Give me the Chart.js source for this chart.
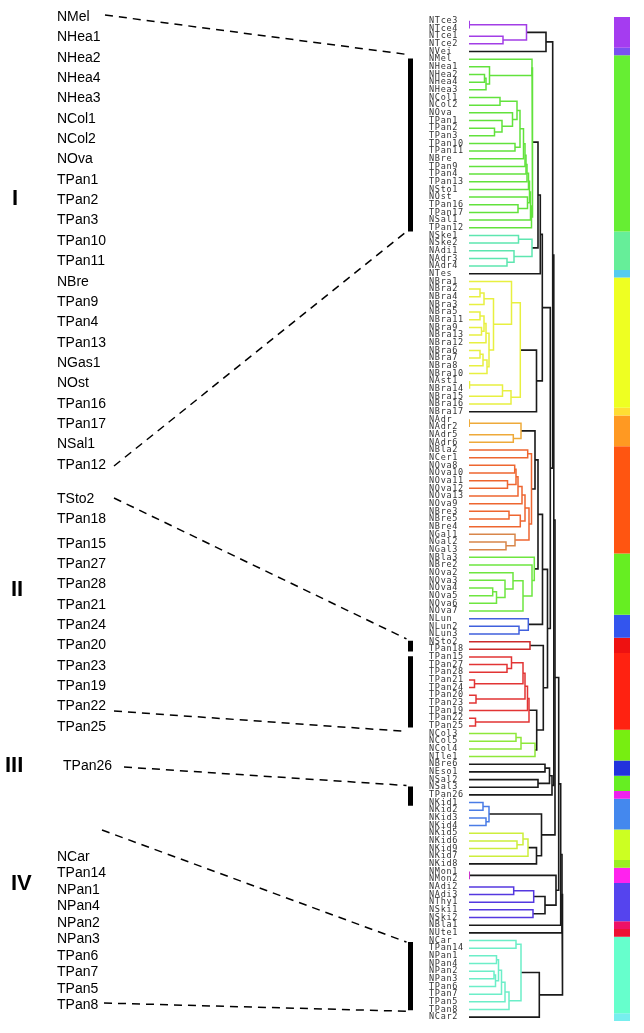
<!DOCTYPE html>
<html><head><meta charset="utf-8">
<script src="https://cdn.jsdelivr.net/npm/chart.js@4/dist/chart.umd.min.js"></script>
<style>html,body{margin:0;padding:0;background:#fff;}#wrap{position:relative;width:644px;height:1033px;}</style>
</head><body><div id="wrap"><canvas id="c"></canvas></div>
<script>
// ---------- DATA ----------
const leaves = ["NTce3","NTce4","NTce1","NTce2","NVei","NMel","NHea1","NHea2","NHea4","NHea3","NCol1","NCol2","NOva","TPan1","TPan2","TPan3","TPan10","TPan11","NBre","TPan9","TPan4","TPan13","NSto1","NOst","TPan16","TPan17","NSal1","TPan12","NSke1","NSke2","NAdi1","NAdr3","NAdr4","NTes","NBra1","NBra2","NBra4","NBra3","NBra5","NBra11","NBra9","NBra13","NBra12","NBra6","NBra7","NBra8","NBra10","NAst1","NBra14","NBra15","NBra16","NBra17","NAdr","NAdr2","NAdr5","NAdr6","NBla2","NCer1","NOva8","NOva10","NOva11","NOva12","NOva13","NOva9","NBre3","NBre5","NBre4","NGal1","NGal2","NGal3","NBla3","NBre2","NOva2","NOva3","NOva4","NOva5","NOva6","NOva7","NLun","NLun2","NLun3","NSto2","TPan18","TPan15","TPan27","TPan28","TPan21","TPan24","TPan20","TPan23","TPan19","TPan22","TPan25","NCol3","NCol5","NCol4","NIle1","NBre6","NEso1","NSal2","NSal3","TPan26","NKid1","NKid2","NKid3","NKid4","NKid5","NKid6","NKid9","NKid7","NKid8","NMon1","NMon2","NAdi2","NAdi3","NThy1","NSki1","NSki2","NBla1","NUte1","NCar","TPan14","NPan1","NPan4","NPan2","NPan3","TPan6","TPan7","TPan5","TPan8","NCar2"];

// [id, left child, right child, merge height, colour key]
const merges = [
 ['A1','NTce3','NTce4',0.4,'pu'],['A2','NTce1','NTce2',34,'pu'],['A3','A1','A2',57.5,'pu'],['A4','A3','NVei',77,'k'],
 ['t1','NHea2','NHea4',15.5,'gr'],['t2','t1','NHea3',17,'gr'],['t3','NHea1','t2',20.5,'gr'],['t4','NMel','t3',63,'gr'],
 ['t5','NCol1','NCol2',31,'gr'],['t6','TPan2','TPan3',25.5,'gr'],['t7','TPan1','t6',33,'gr'],['t8','NOva','t7',43.5,'gr'],
 ['t9','t5','t8',48,'gr'],['t10','TPan10','TPan11',46,'gr'],['t11','t9','t10',51,'gr'],
 ['s1','t11','NBre',54.5,'gr'],['s2','s1','TPan9',56,'gr'],['s3','s2','TPan4',57,'gr'],['s4','s3','TPan13',58,'gr'],
 ['s5','s4','NSto1',59.5,'gr'],['t13','TPan16','TPan17',49,'gr'],['t14','NOst','t13',58.5,'gr'],['s6','s5','t14',60.5,'gr'],
 ['s7','s6','NSal1',61.5,'gr'],['s8','s7','TPan12',62.5,'gr'],['s9','t4','s8',63.5,'gr'],
 ['m1','NSke1','NSke2',49.5,'mi'],['m2','NAdr3','NAdr4',38,'mi'],['m3','NAdi1','m2',45,'mi'],['m4','m1','m3',63,'mi'],
 ['gm','s9','m4',69,'k'],['gmt','gm','NTes',71.3,'k'],
 ['b1','NBra2','NBra4',11,'ye'],['b2','b1','NBra3',15,'ye'],['b3','NBra5','NBra11',11,'ye'],['b4','NBra9','NBra13',12.5,'ye'],
 ['b5','b3','b4',15,'ye'],['b6','b5','NBra12',17,'ye'],['b7','NBra6','NBra7',11,'ye'],['b8','b7','NBra8',14,'ye'],
 ['b9','b8','NBra10',18,'ye'],['b10','b6','b9',20,'ye'],['b11','b2','b10',24.5,'ye'],['b12','NBra1','b11',42.5,'ye'],
 ['b13','NAst1','NBra14',0.8,'ye'],['b14','b13','NBra15',33.5,'ye'],['b15','b14','NBra16',42,'ye'],['b16','b12','b15',51.3,'ye'],
 ['b17','b16','NBra17',67.5,'k'],['G','gmt','b17',73.3,'k'],
 ['a1','NAdr','NAdr2',0.4,'or'],['a2','NAdr5','NAdr6',44.3,'or'],['a3','a1','a2',52,'or'],
 ['o1','NBla2','NCer1',58.7,'ro'],['o2','NOva8','NOva10',45.7,'ro'],['o3','NOva11','NOva12',38.5,'ro'],['o4','o2','o3',47,'ro'],
 ['o5','o4','NOva13',49,'ro'],['o6','o5','NOva9',53,'ro'],['o7','NBre3','NBre5',40,'ro'],['o8','o7','NBre4',51.3,'ro'],
 ['o9','o6','o8',56,'ro'],['o10','NGal2','NGal3',37,'rb'],['o11','NGal1','o10',46,'rb'],['o12','o9','o11',60,'ro'],
 ['o13','o1','o12',62.5,'ro'],['ao','a3','o13',66,'k'],
 ['g1','NOva4','NOva5',23.7,'g2'],['g2','g1','NOva6',27.5,'g2'],['g3','NOva3','g2',36,'g2'],['g4','NOva2','g3',44,'g2'],
 ['g5','g4','NOva7',54,'g2'],['g6','NBre2','g5',63,'g2'],['g7','NBla3','g6',65.3,'g2'],['aog','ao','g7',69,'k'],
 ['l1','NLun2','NLun3',50,'bl'],['l2','NLun','l1',59.3,'bl'],['aogl','aog','l2',73.5,'k'],
 ['r1','NSto2','TPan18',61,'rd'],['r2','TPan27','TPan28',38,'re'],['r3','TPan15','r2',42.5,'re'],['r4','TPan21','TPan24',5.5,'re'],
 ['r5','r3','r4',54,'re'],['r6','TPan20','TPan23',7,'re'],['r7','r5','r6',56,'re'],['r8','r7','TPan19',58.5,'re'],
 ['r9','TPan22','TPan25',6.5,'re'],['r10','r8','r9',60,'re'],
 ['c1','NCol3','NCol5',47,'g3'],['c2','c1','NCol4',52,'g3'],['c3','c2','NIle1',66,'g3'],
 ['rc','r10','c3',67.7,'k'],['rc2','r1','rc',74.3,'k'],['OR','aogl','rc2',78.5,'k'],['GO','G','OR',81.3,'k'],['PGO','A4','GO',83.7,'k'],
 ['e1','NBre6','NEso1',76,'k'],['e2','NSal2','NSal3',69,'k'],['e3','e1','e2',80.5,'k'],['e4','e3','TPan26',83,'k'],['U1','PGO','e4',84.8,'k'],
 ['k1','NKid1','NKid2',14,'kb'],['k2','NKid3','NKid4',17,'kb'],['k3','k1','k2',20,'kb'],['k4','NKid6','NKid9',48,'ky'],
 ['k5','NKid5','k4',54,'ky'],['k6','k5','NKid7',59,'ky'],['k7','k6','NKid8',67.5,'k'],['k8','k3','k7',72.5,'k'],['U2','U1','k8',86,'k'],
 ['n1','NMon1','NMon2',0.4,'ma'],['n2','NAdi2','NAdi3',44.7,'ab'],['n3','n2','NThy1',64.7,'ab'],['n4','NSki1','NSki2',64,'ab'],
 ['n5','n3','n4',76,'k'],['n6','n1','n5',87,'k'],['U3','U2','n6',89.7,'k'],['U4','U3','NBla1',91.7,'k'],['U5','U4','NUte1',93,'k'],
 ['p1','NCar','TPan14',47,'aq'],['p2','NPan1','NPan4',27.5,'aq'],['p3','NPan2','NPan3',25,'aq'],['p4','p3','TPan6',26.5,'aq'],
 ['p5','p2','p4',29.5,'aq'],['p6','p5','TPan7',32.5,'aq'],['p7','p6','TPan5',36,'aq'],['p8','p7','TPan8',40,'aq'],
 ['p9','p1','p8',52,'aq'],['p10','p9','NCar2',70.3,'k'],['ROOT','U5','p10',93.5,'k']
];

const lineColors = {k:'#1a1a1a',pu:'#a23ee6',gr:'#62e23c',mi:'#5ee6b0',ye:'#e8f040',or:'#eeaa3a',ro:'#ee6630',rb:'#d8864a',
  g2:'#6ee640',bl:'#4060dd',rd:'#cc2a2a',re:'#e23434',g3:'#8ee83a',kb:'#4a7ce6',ky:'#cdee3c',ma:'#cc33cc',ab:'#5538e0',aq:'#6ceec8'};

// colour bar: [first leaf, last leaf, colour]
const barSpans = [[0,3,'#a53cf0'],[4,4,'#7a50f0'],[5,27,'#66ee33'],[28,32,'#66ee99'],[33,33,'#55ccee'],[34,50,'#eeff22'],
 [51,51,'#ffdd33'],[52,55,'#ff9922'],[56,69,'#ff5511'],[70,77,'#66ee22'],[78,80,'#3355ee'],[81,82,'#ee1111'],[83,92,'#ff2211'],
 [93,96,'#77ee11'],[97,98,'#2233dd'],[99,100,'#66ee22'],[101,101,'#ee22ee'],[102,105,'#4488ee'],[106,109,'#ccff22'],
 [110,110,'#99ee22'],[111,112,'#ff22ee'],[113,117,'#5544ee'],[118,118,'#ee1166'],[119,119,'#ee1133'],[120,129,'#66ffcc'],[130,130,'#77eeee']];

// annotation groups
const groupNames = ["I","II","III","IV"];
const groupI = ["NMel","NHea1","NHea2","NHea4","NHea3","NCol1","NCol2","NOva","TPan1","TPan2","TPan3","TPan10","TPan11","NBre","TPan9","TPan4","TPan13","NGas1","NOst","TPan16","TPan17","NSal1","TPan12"];
const groupII = ["TSto2","TPan18","TPan15","TPan27","TPan28","TPan21","TPan24","TPan20","TPan23","TPan19","TPan22","TPan25"];
const groupIII = ["TPan26"];
const groupIV = ["NCar","TPan14","NPan1","NPan4","NPan2","NPan3","TPan6","TPan7","TPan5","TPan8"];
// bracket bars: [from leaf position, to leaf position]
const brackets = [[4.9,27.5],[80.9,82.3],[82.9,92.2],[99.9,102.4],[120.2,129.1]];

// ---------- BUILD ----------
const pos = {};
leaves.forEach((n,i)=>pos[n]={y:i,h:0});
const datasets = [];
barSpans.forEach(([a,b,c])=>{
  datasets.push({data:[{x:153,y:a-0.5},{x:153,y:b+0.5}],showLine:true,borderColor:c,borderWidth:16,borderCapStyle:'butt',pointRadius:0});
});
merges.forEach(([id,l,r,h,ck])=>{
  const L=pos[l], R=pos[r];
  pos[id]={y:(L.y+R.y)/2,h:h};
  datasets.push({data:[{x:L.h,y:L.y},{x:h,y:L.y},{x:h,y:R.y},{x:R.h,y:R.y}],showLine:true,borderColor:lineColors[ck],
    borderWidth:ck==='k'?1.6:1.5,pointRadius:0,tension:0,borderJoinStyle:'miter'});
});
const BRX = -58.5;
brackets.forEach(([a,b])=>{
  datasets.push({data:[{x:BRX,y:a},{x:BRX,y:b}],showLine:true,borderColor:'#000',borderWidth:5,borderCapStyle:'butt',pointRadius:0,clip:false});
});

const spacing = {
  id:'spacing',
  beforeDraw(chart){ chart.ctx.letterSpacing='0.7px'; }
};
const annot = {
  id:'annot',
  afterDraw(chart){
    const ctx=chart.ctx, ys=chart.scales.y, xs=chart.scales.x;
    ctx.save();
    ctx.letterSpacing='0px';
    ctx.fillStyle='#000';
    ctx.textBaseline='middle';
    ctx.font='14px "Liberation Sans", Arial, sans-serif';
    const put=(arr,x,y0,step)=>arr.forEach((t,i)=>ctx.fillText(t,x,y0+i*step));
    put(groupI,57,17,20.36);
    put(groupII.slice(0,2),57,499,20.3);
    put(groupII.slice(2),57,544,20.3);
    put(groupIII,63,766,0);
    put(groupIV,57,857,16.5);
    ctx.font='bold 22px "Liberation Sans", Arial, sans-serif';
    ctx.fillText(groupNames[0],12,199);
    ctx.fillText(groupNames[1],11,590);
    ctx.fillText(groupNames[2],5,766);
    ctx.fillText(groupNames[3],11,884);
    const bx = xs.getPixelForValue(BRX)-4;
    const py = v=>ys.getPixelForValue(v);
    ctx.strokeStyle='#000'; ctx.lineWidth=1.5; ctx.setLineDash([8,6]);
    const seg=(x1,y1,y2)=>{ctx.beginPath();ctx.moveTo(x1,y1);ctx.lineTo(bx,y2);ctx.stroke();};
    seg(105,15,py(brackets[0][0])-4);
    seg(114,466,py(brackets[0][1]));
    seg(114,498,py(brackets[1][0])-2);
    seg(114,711,py(brackets[2][1])+4);
    seg(124,767,py(brackets[3][0])-1);
    seg(102,830,py(brackets[4][0]));
    seg(104,1003,py(brackets[4][1])+1);
    ctx.restore();
    ctx.letterSpacing='0px';
  }
};

new Chart(document.getElementById('c'),{
  type:'scatter',
  data:{datasets},
  options:{
    responsive:true,maintainAspectRatio:false,animation:false,
    layout:{padding:{left:429,right:0,top:17,bottom:12}},
    plugins:{legend:{display:false},tooltip:{enabled:false}},
    scales:{
      x:{type:'linear',min:0,max:175,display:false},
      y:{type:'linear',min:-0.5,max:130.5,reverse:true,
        grid:{display:false},border:{display:false},
        afterBuildTicks:s=>{s.ticks=leaves.map((_,i)=>({value:i}));},
        afterFit:s=>{s.width=40;},
        ticks:{autoSkip:false,crossAlign:'far',padding:0,color:'#333',
          font:{family:'"DejaVu Sans Mono", monospace',size:8.5},
          callback:v=>leaves[v]}
      }
    }
  },
  plugins:[spacing,annot]
});
</script></body></html>
